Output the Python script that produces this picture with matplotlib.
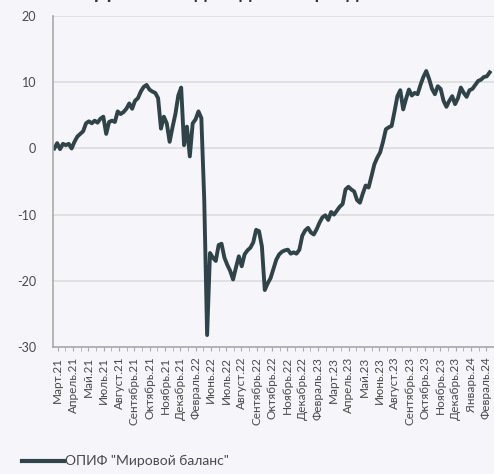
import numpy as np
import matplotlib
matplotlib.use("Agg")
import matplotlib.pyplot as plt

plt.rcParams['font.family'] = ['Lato', 'DejaVu Sans']
plt.rcParams['axes.unicode_minus'] = False

# Fund return, % (roughly evenly spaced trading days)
returns = [
    0.0, 0.8, -0.1, 0.7, 0.5, 0.7, 0.0, 1.0, 1.8, 2.2, 2.6, 3.8, 4.1, 3.8, 4.2,
    3.9, 4.5, 4.8, 2.2, 4.0, 4.2, 4.0, 5.6, 5.2, 5.5, 6.0, 6.8, 6.0, 7.2, 7.6,
    8.6, 9.3, 9.6, 8.9, 8.6, 8.4, 7.6, 3.0, 4.8, 3.8, 1.0, 3.2, 5.2, 8.0, 9.2,
    0.5, 3.3, -1.2, 3.8, 4.4, 5.6, 4.6, -7.7, -28.2, -15.8, -16.5, -17.0, -14.6,
    -14.4, -16.5, -17.6, -18.5, -19.8, -18.0, -16.3, -17.8, -16.0, -15.4, -15.0,
    -14.2, -12.3, -12.5, -14.8, -21.4, -20.4, -19.6, -18.2, -16.8, -16.0, -15.6,
    -15.4, -15.3, -15.9, -15.7, -15.9, -15.3, -13.2, -12.4, -12.0, -12.7, -13.0,
    -12.2, -11.2, -10.4, -10.1, -10.8, -9.6, -10.0, -9.4, -8.8, -8.4, -6.2, -5.8,
    -6.2, -6.5, -7.8, -8.2, -6.8, -5.6, -5.9, -4.2, -2.4, -1.4, -0.6, 1.0, 2.9,
    3.2, 3.4, 5.6, 7.9, 8.8, 5.9, 7.5, 8.9, 8.0, 8.4, 8.2, 9.6, 10.8, 11.7, 10.5,
    9.0, 8.2, 9.4, 9.0, 7.2, 6.3, 7.2, 7.9, 6.7, 7.6, 9.2, 8.4, 7.8, 8.8, 9.0,
    9.6, 10.2, 10.4, 10.8, 10.9, 11.5,
]

month_labels = [
    'Март.21', 'Апрель.21', 'Май.21', 'Июль.21', 'Август.21', 'Сентябрь.21',
    'Октябрь.21', 'Ноябрь.21', 'Декабрь.21', 'Февраль.22', 'Июнь.22', 'Июль.22',
    'Август.22', 'Сентябрь.22', 'Октябрь.22', 'Ноябрь.22', 'Декабрь.22',
    'Февраль.23', 'Март.23', 'Апрель.23', 'Май.23', 'Июнь.23', 'Август.23',
    'Сентябрь.23', 'Октябрь.23', 'Ноябрь.23', 'Декабрь.23', 'Январь.24',
    'Февраль.24',
]

bg = '#f5f5fa'
line_color = '#2f4448'
text_color = '#4a4a4a'

fig = plt.figure(figsize=(4.94, 4.74), dpi=100, facecolor=bg)
ax = fig.add_axes([0.107, 0.268, 0.893, 0.698], facecolor=bg)

n = len(returns)
x = np.arange(n)
ax.plot(x, returns, color=line_color, lw=2.8, solid_joinstyle='round',
        label='ОПИФ "Мировой баланс"')

ax.set_xlim(-0.5, n - 0.5)
ax.set_ylim(-30, 20)
ax.set_yticks([-30, -20, -10, 0, 10, 20])
ax.yaxis.grid(True, color='#dcdcdc', lw=1.2)
ax.set_axisbelow(True)

# category labels every ~15 px, minor marks in between
step = n * 15.4 / 441
first = n * 5 / 441 - 0.5
major = first + step * np.arange(len(month_labels))
ax.set_xticks(major)
ax.set_xticklabels(month_labels, rotation=90, fontsize=8.5, color=text_color)
ax.set_xticks(major + step / 2, minor=True)
ax.tick_params(axis='x', which='both', length=3, color='#aaaaaa', pad=4)
ax.tick_params(axis='y', length=0, labelsize=9, labelcolor=text_color, pad=12)

for s in ['top', 'right']:
    ax.spines[s].set_visible(False)
for s in ['left', 'bottom']:
    ax.spines[s].set_color('#aaaaaa')
    ax.spines[s].set_linewidth(1.2)

fig.text(0.47, 1.003, 'Динамика доходности фонда', ha='center', va='baseline',
         fontsize=14, fontweight='bold', color='#333333')

fig.legend(loc='lower left', bbox_to_anchor=(0.02, -0.012), frameon=False,
           fontsize=10, handlelength=3.0, handletextpad=0.1,
           labelcolor=text_color, handleheight=0.5)
for h in fig.legends[0].get_lines():
    h.set_linewidth(3)

fig.savefig('out.png', dpi=100, facecolor=bg)
